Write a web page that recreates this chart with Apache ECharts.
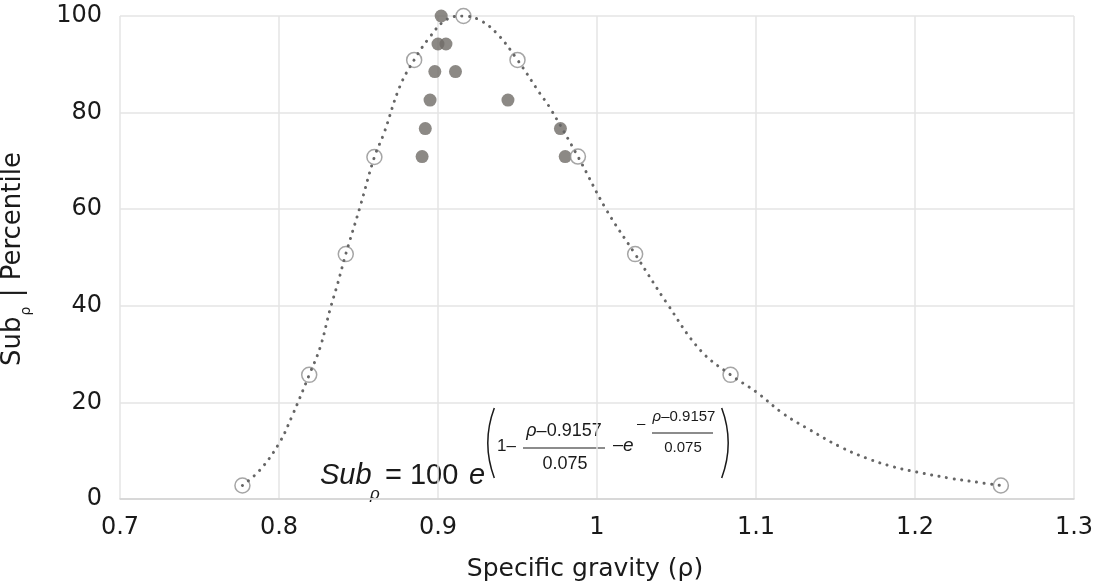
<!DOCTYPE html>
<html>
<head>
<meta charset="utf-8">
<title>Specific gravity percentile</title>
<script src="https://cdn.jsdelivr.net/npm/echarts@6/dist/echarts.min.js"></script>
<style>
  html, body { margin: 0; padding: 0; background: #fff; }
  #chart { width: 1107px; height: 588px; }
</style>
</head>
<body>
<div id="chart"></div>
<script>
// Dotted fitted curve
const curveX = [0.777, 0.788, 0.800, 0.808, 0.819, 0.826, 0.832, 0.837, 0.842, 0.851, 0.860, 0.866,
                0.876, 0.885, 0.895, 0.905, 0.916, 0.926, 0.937, 0.950, 0.964, 0.970, 0.988, 1.006,
                1.024, 1.044, 1.065, 1.084, 1.100, 1.117, 1.134, 1.153, 1.170, 1.186, 1.201, 1.222,
                1.243, 1.254];
const curveY = [2.8, 6.0, 11.5, 17.0, 25.7, 31.5, 39.1, 44.7, 50.7, 60.5, 70.8, 75.7,
                85.4, 90.9, 95.7, 99.2, 100, 99.2, 96.4, 90.9, 84.0, 81.2, 70.9, 59.8,
                50.7, 40.5, 30.8, 25.7, 22.2, 17.7, 14.3, 10.8, 8.4, 6.7, 5.6, 4.3,
                3.3, 2.8];

// Open circles on the curve
const modelX = [0.777, 0.819, 0.842, 0.860, 0.885, 0.916, 0.950, 0.988, 1.024, 1.084, 1.254];
const modelY = [2.8, 25.7, 50.7, 70.8, 90.9, 100, 90.9, 70.9, 50.7, 25.7, 2.8];

// Filled observed points
const obsX = [0.902, 0.900, 0.905, 0.898, 0.911, 0.895, 0.944, 0.892, 0.977, 0.890, 0.980];
const obsY = [100, 94.2, 94.2, 88.5, 88.5, 82.6, 82.6, 76.7, 76.7, 70.9, 70.9];

// Axis ticks
const xTicks = [0.7, 0.8, 0.9, 1.0, 1.1, 1.2, 1.3];
const yTicks = [0, 20, 40, 60, 80, 100];

const zip = (xs, ys) => xs.map((x, i) => [x, ys[i]]);

const TXT = '#1a1a1a';
const AXIS_FONT = 'DejaVu Sans';
const EQ_FONT = 'Liberation Sans';

function textWidth(str, font) {
    const ctx = document.createElement('canvas').getContext('2d');
    ctx.font = font;
    return ctx.measureText(str).width;
}

// Rotated y axis name with subscript rho
function yAxisName() {
    const wSub = textWidth('Sub', '26px "' + AXIS_FONT + '"');
    const wRho = textWidth('ρ', '14px "' + AXIS_FONT + '"');
    const base = { fill: TXT, fontFamily: AXIS_FONT, verticalAlign: 'middle', align: 'left' };
    return {
        type: 'group',
        x: 13, y: 366,
        rotation: Math.PI / 2,
        children: [
            { type: 'text', x: 0, y: 0, style: Object.assign({ text: 'Sub', fontSize: 26 }, base) },
            { type: 'text', x: wSub + 1, y: 13, style: Object.assign({ text: 'ρ', fontSize: 14 }, base) },
            { type: 'text', x: wSub + wRho + 2, y: 0, style: Object.assign({ text: ' | Percentile', fontSize: 26 }, base) }
        ]
    };
}

// Formula annotation
function eqText(text, x, y, size, opts) {
    return {
        type: 'text', x: x, y: y,
        style: Object.assign({
            text: text, fill: TXT, fontFamily: EQ_FONT, fontSize: size,
            align: 'left', verticalAlign: 'middle'
        }, opts || {})
    };
}

// "ρ–0.9157" with an italic rho, centred on cx
function numerator(cx, y, size) {
    const wR = textWidth('ρ', 'italic ' + size + 'px "' + EQ_FONT + '"');
    const wN = textWidth('–0.9157', size + 'px "' + EQ_FONT + '"');
    const left = cx - (wR + wN) / 2;
    return [
        eqText('ρ', left, y, size, { fontStyle: 'italic' }),
        eqText('–0.9157', left + wR, y, size)
    ];
}

function formula() {
    const paren = (cx, a0, a1) => ({
        type: 'arc',
        shape: { cx: cx, cy: 443, r: 100, startAngle: a0, endAngle: a1, clockwise: true },
        style: { stroke: TXT, lineWidth: 1.5, fill: null }
    });
    const bar = (x1, x2, y) => ({
        type: 'line',
        shape: { x1: x1, y1: y, x2: x2, y2: y },
        style: { stroke: TXT, lineWidth: 1.2 }
    });
    const a = 0.357;
    return [
        eqText('Sub', 320, 476, 29, { fontStyle: 'italic' }),
        eqText('ρ', 370, 494, 17, { fontStyle: 'italic' }),
        eqText('= 100', 385, 476, 29),
        eqText('e', 469, 476, 29, { fontStyle: 'italic' }),
        paren(588, Math.PI - a, Math.PI + a),
        eqText('1–', 497, 446, 17)
    ].concat(numerator(564, 431, 18), [
        bar(523, 605, 448),
        eqText('0.075', 565, 464, 18, { align: 'center' }),
        eqText('–', 613, 445, 18),
        eqText('e', 623, 446, 19, { fontStyle: 'italic' }),
        eqText('–', 637, 424, 15)
    ], numerator(684, 417, 15), [
        bar(652, 713, 433),
        eqText('0.075', 683, 448, 15, { align: 'center' }),
        paren(628, -a, a)
    ]);
}

const chart = echarts.init(document.getElementById('chart'), null, { renderer: 'canvas' });

const option = {
    animation: false,
    backgroundColor: '#fff',
    grid: { left: 120, right: 33, top: 16, bottom: 89, containLabel: false },
    xAxis: {
        type: 'value',
        min: xTicks[0],
        max: xTicks[xTicks.length - 1],
        interval: 0.1,
        name: 'Specific gravity (ρ)',
        nameLocation: 'middle',
        nameGap: 58,
        nameTextStyle: { color: TXT, fontFamily: AXIS_FONT, fontSize: 25, padding: [0, 24, 0, 0] },
        axisLine: { show: true, lineStyle: { color: '#d2d2d2', width: 1.5 } },
        axisTick: { show: false },
        axisLabel: { color: TXT, fontFamily: AXIS_FONT, fontSize: 24, margin: 17 },
        splitLine: { show: true, lineStyle: { color: '#e4e4e4', width: 1.5 } }
    },
    yAxis: {
        type: 'value',
        min: yTicks[0],
        max: yTicks[yTicks.length - 1],
        interval: 20,
        axisLine: { show: false },
        axisTick: { show: false },
        axisLabel: { color: TXT, fontFamily: AXIS_FONT, fontSize: 24, margin: 18 },
        splitLine: { show: true, lineStyle: { color: '#e4e4e4', width: 1.5 } }
    },
    graphic: [yAxisName()].concat(formula()),
    series: [
        {
            name: 'Observed',
            type: 'scatter',
            data: zip(obsX, obsY),
            symbol: 'circle',
            symbolSize: 13,
            itemStyle: { color: '#6f6b67' },
            z: 2
        },
        {
            name: 'Model points',
            type: 'scatter',
            data: zip(modelX, modelY),
            symbol: 'circle',
            symbolSize: 15,
            itemStyle: { color: '#ffffff', borderColor: '#8e8e8e', borderWidth: 1.5 },
            z: 3
        },
        {
            name: 'Fit',
            type: 'line',
            data: zip(curveX, curveY),
            smooth: 0.4,
            showSymbol: false,
            symbol: 'none',
            lineStyle: { color: '#666666', width: 3, type: [0.1, 7.5], cap: 'round' },
            z: 4
        }
    ]
};

chart.setOption(option);
</script>
</body>
</html>
